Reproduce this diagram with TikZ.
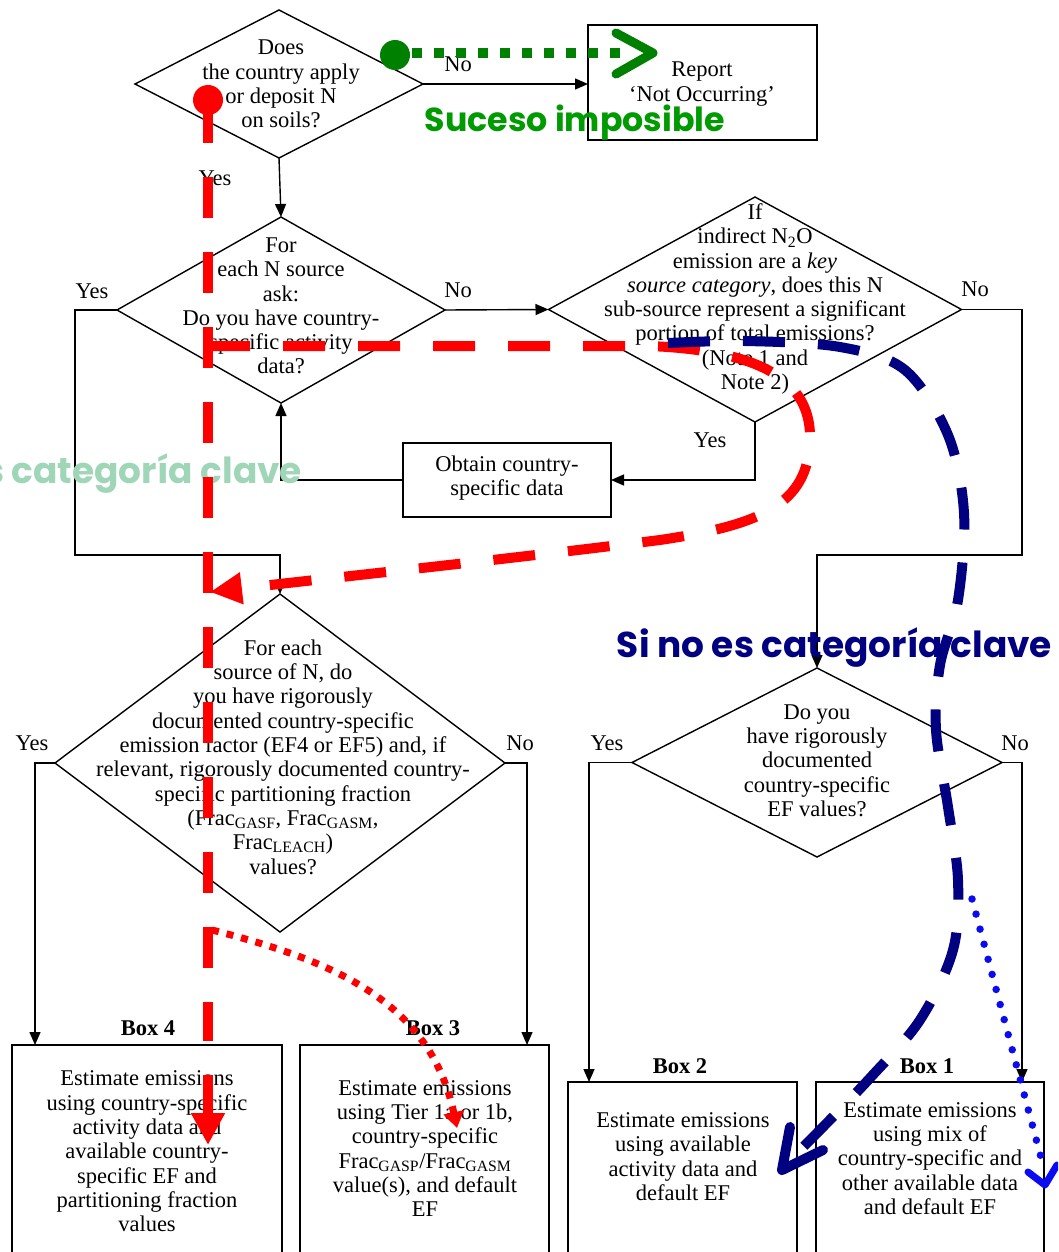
\documentclass[tikz,border=0pt]{standalone}
\usepackage{fontspec}
\setmainfont{Liberation Serif}
\newfontfamily\handfont{Poppins}
\usetikzlibrary{arrows.meta,shapes.geometric}

\definecolor{markred}{RGB}{255,0,0}
\definecolor{marknavy}{RGB}{0,0,128}
\definecolor{markblue}{RGB}{10,10,245}
\definecolor{markgreen}{RGB}{0,128,0}
\definecolor{labelgreen}{RGB}{0,155,0}
\definecolor{mint}{RGB}{160,214,184}

\begin{document}
\begin{tikzpicture}[x=1pt,y=-1pt,
  every node/.style={font=\fontsize{22.5}{24.3}\selectfont, inner sep=0pt, outer sep=0pt},
  txt/.style={align=center},
  diam/.style 2 args={draw, line width=1.4pt, shape=diamond, minimum width=#1, minimum height=#2},
  thinbox/.style 2 args={draw, line width=1.6pt, rectangle, minimum width=#1, minimum height=#2},
  thickbox/.style 2 args={draw, line width=2.8pt, rectangle, minimum width=#1, minimum height=#2},
  boxlabel/.style={font=\fontsize{22.5}{24.3}\selectfont\bfseries},
  conn/.style={line width=1.4pt, -{Triangle[length=13pt,width=11pt]}},
  plain/.style={line width=1.4pt},
  redmark/.style={markred, line width=10pt},
  navymark/.style={marknavy, line width=10pt},
  longdash/.style={dash pattern=on 42pt off 33pt},
  overlay/.style={font=\handfont\bfseries}
]
\useasboundingbox (0,0) rectangle (1058,1252);
\clip (0,0) rectangle (1058,1252);
\fill[white] (0,0) rectangle (1058,1252);

% ---------- decision shapes ----------
\node[diam={288pt}{148pt}] (q1) at (279,84) {};
\node[txt] (q1t) at (281,84) {Does\\the country apply\\or deposit N\\on soils?};

\node[thinbox={229pt}{115pt}] (rep) at (702.5,82.5) {};
\node[txt] (rept) at (702,84) {Report\\‘Not Occurring’};

\node[diam={328pt}{186pt}] (q2) at (281,310) {};
\node[txt] (q2t) at (281,306) {For\\each N source\\ask:\\Do you have country-\\specific activity\\data?};

\node[diam={413pt}{225pt}] (q3) at (755,309.5) {};
\node[txt] (q3t) at (755,299) {If\\indirect N\textsubscript{2}O\\emission are a \textit{key}\\\textit{source category}, does this N\\sub-source represent a significant\\portion of total emissions?\\(Note 1 and\\Note 2)};

\node[thinbox={208pt}{74pt}] (obt) at (507,480) {};
\node[txt] (obtt) at (507,478) {Obtain country-\\specific data};

\node[diam={450pt}{338pt}] (q4) at (280,763) {};
\node[txt] (q4t) at (283,757) {For each\\source of N, do\\you have rigorously\\documented country-specific\\emission factor (EF4 or EF5) and, if\\relevant, rigorously documented country-\\specific partitioning fraction\\(Frac\textsubscript{GASF}, Frac\textsubscript{GASM},\\Frac\textsubscript{LEACH})\\values?};

\node[diam={370pt}{189pt}] (q5) at (817,762.5) {};
\node[txt] (q5t) at (817,760.5) {Do you\\have rigorously\\documented\\country-specific\\EF values?};

% ---------- result boxes ----------
\node[thickbox={270pt}{217pt}] (b4) at (147,1153.5) {};
\node[txt] (b4t) at (147,1151.5) {Estimate emissions\\using country-specific\\activity data and\\available country-\\specific EF and\\partitioning fraction\\values};
\node[boxlabel] (b4l) at (148,1028) {Box 4};

\node[thickbox={249pt}{217pt}] (b3) at (424.5,1153.5) {};
\node[txt] (b3t) at (425,1148.5) {Estimate emissions\\using Tier 1a or 1b,\\country-specific\\Frac\textsubscript{GASP}/Frac\textsubscript{GASM}\\value(s), and default\\EF};
\node[boxlabel] (b3l) at (433,1028) {Box 3};

\node[thickbox={229pt}{180pt}] (b2) at (682.5,1172) {};
\node[txt] (b2t) at (683,1156.5) {Estimate emissions\\using available\\activity data and\\default EF};
\node[boxlabel] (b2l) at (680,1066) {Box 2};

\node[thickbox={228pt}{180pt}] (b1) at (930,1172) {};
\node[txt] (b1t) at (930,1158.5) {Estimate emissions\\using mix of\\country-specific and\\other available data\\and default EF};
\node[boxlabel] (b1l) at (927,1066) {Box 1};

% ---------- connectors ----------
\coordinate (yesbend) at (75,555);
\coordinate (nobend) at (1022,555);
\coordinate (in4) at (35,1045);
\coordinate (in3) at (527,1045);
\coordinate (in2) at (589,1082);
\coordinate (in1) at (1022,1082);

\draw[conn] (q1.east) -- (q1.east -| rep.west);
\draw[conn] (q1.south) -- (q2.north);
\draw[conn] (q2.east) -- (q3.west);
\draw[conn] (q2.west) -| (yesbend) -| (q4.north);
\draw[conn] (q3.south) |- (obt.east);
\draw[conn] (obt.west) -| (q2.south);
\draw[conn] (q3.east) -| (nobend) -| (q5.north);
\draw[conn] (q4.west) -| (in4);
\draw[conn] (q4.east) -| (in3);
\draw[conn] (q5.west) -| (in2);
\draw[conn] (q5.east) -| (in1);

\node (no1) at (458,64) {No};
\node (yes1) at (215,178) {Yes};
\node (no2) at (458,290) {No};
\node (yes2) at (92,291) {Yes};
\node (yes3) at (710,440) {Yes};
\node (no3) at (975,289) {No};
\node (yes4) at (32,743) {Yes};
\node (no4) at (520,743) {No};
\node (yes5) at (607,743) {Yes};
\node (no5) at (1015,743) {No};

% ---------- hand-drawn annotations ----------
\node[overlay, text=mint, anchor=base east] (keycat) at (302,483)
  {\resizebox{435pt}{!}{\phantom{Si no }es categoría clave}};

% red path: key category
\coordinate (rstart) at (208,100);
\coordinate (rturn) at (208,346);
\fill[markred] (rstart) circle (15pt);
\draw[redmark, dash pattern=on 41pt off 34pt] (208,102) -- (208,1041);
\draw[redmark, -{Triangle[length=32pt,width=32pt]}] (208,1075) -- (208,1145);
\draw[redmark, longdash, -{Triangle[length=32pt,width=30pt]}]
  (rturn) -- (650,346) .. controls (740,350) and (812,370) .. (810,440)
  .. controls (808,505) and (760,525) .. (660,540)
  .. controls (500,560) and (330,578) .. (210,592);
\draw[markred, line width=7pt, dash pattern=on 7pt off 8pt, -{Triangle[length=16pt,width=20pt]}]
  (212,930) .. controls (330,960) and (430,1000) .. (457,1128);

% green path: impossible event
\coordinate (gstart) at (395,55);
\fill[markgreen] (gstart) circle (15pt);
\draw[markgreen, line width=10pt, dash pattern=on 10pt off 12pt] (412,53) -- (622,53);
\draw[markgreen, line width=9pt, line cap=round, line join=round] (616,33) -- (653,53) -- (616,74);
\node[overlay, text=labelgreen, anchor=base] (suceso) at (575,132)
  {\resizebox{300pt}{!}{Suceso imposible}};

% navy path: not a key category
\node[overlay, text=marknavy, anchor=base] (nokey) at (834.5,657)
  {\resizebox{435pt}{!}{Si no es categoría clave}};
\draw[navymark, longdash] plot[smooth, tension=0.55] coordinates {
  (668,343) (745,341) (840,347) (905,370) (948,435) (964,513) (958,600)
  (940,665) (936,730) (948,807) (958,880) (953,950) (920,1020) (870,1078)
  (820,1130) (790,1160)};
\draw[navymark, line cap=round, line join=round] (790,1127) -- (782,1170) -- (823,1150);

\draw[markblue, line width=7.5pt, line cap=round, dash pattern=on 0pt off 15.6pt] (972,899) -- (1043,1165);
\draw[markblue, line width=7pt, line cap=round, line join=round] (1028,1172) -- (1045,1185) -- (1057,1165);
\end{tikzpicture}
\end{document}
